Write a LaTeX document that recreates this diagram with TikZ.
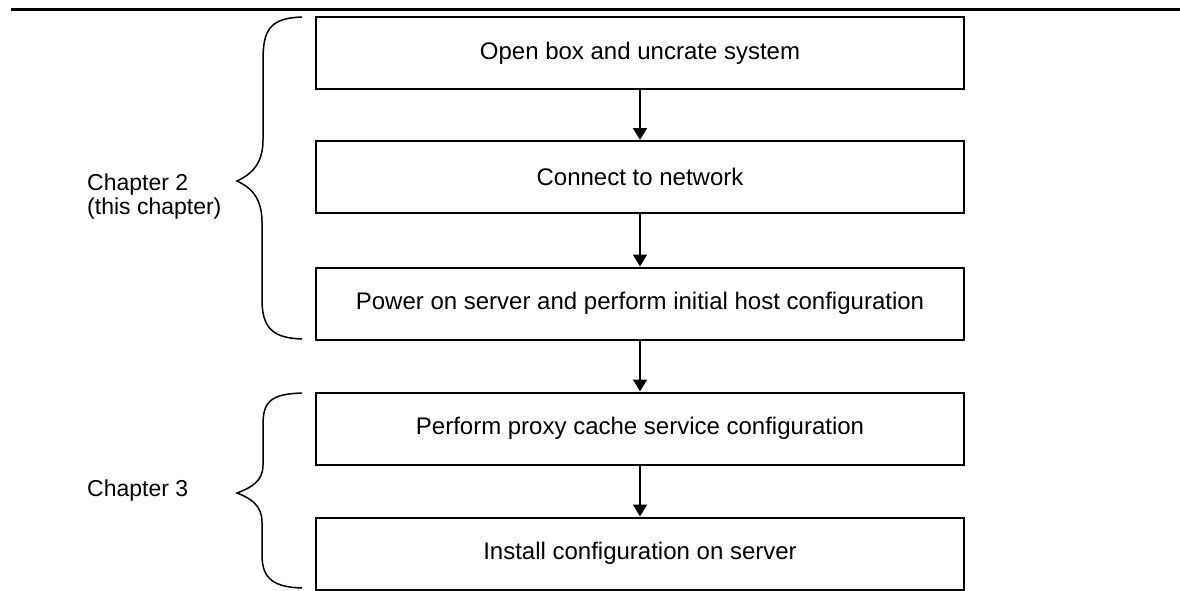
\documentclass[tikz,border=0pt]{standalone}
\usepackage{fontspec}
\setmainfont{Liberation Sans}
\usetikzlibrary{arrows.meta}
\begin{document}
\begin{tikzpicture}[x=1pt,y=-1pt,
  stepbox/.style={draw, line width=2pt, minimum width=648pt, minimum height=72pt, inner sep=0pt, font=\fontsize{24}{24}\selectfont},
  flow/.style={line width=1.6pt, -{Triangle[width=14pt,length=12pt]}},
  bracestyle/.style={line width=1.5pt},
  lbl/.style={font=\fontsize{23}{24}\selectfont, inner sep=0pt, align=left},
  rulestyle/.style={line width=3pt}]
\useasboundingbox (0,0) rectangle (1180,590);
\coordinate (rl) at (11,9.5);
\coordinate (rr) at (1180,9.5);
\draw[rulestyle] (rl) -- (rr);

\node[stepbox] (b1) at (640,53) {Open box and uncrate system};
\node[stepbox] (b2) at (640,177) {Connect to network};
\node[stepbox] (b3) at (640,303.5) {Power on server and perform initial host configuration};
\node[stepbox] (b4) at (640,428.5) {Perform proxy cache service configuration};
\node[stepbox] (b5) at (640,553.5) {Install configuration on server};

\draw[flow] (b1) -- (b2);
\draw[flow] (b2) -- (b3);
\draw[flow] (b3) -- (b4);
\draw[flow] (b4) -- (b5);

\draw[bracestyle] (302,17) .. controls (270,18) and (263,30) .. (263,60) -- (263,140)
  .. controls (263,165) and (250,175) .. (237,181)
  .. controls (250,187) and (262,197) .. (262,222) -- (262,300)
  .. controls (262,330) and (275,338) .. (302,339);
\draw[bracestyle] (302,393) .. controls (270,394) and (263,402) .. (263,425) -- (263,465)
  .. controls (263,482) and (250,488) .. (237,493)
  .. controls (250,498) and (262,505) .. (262,522) -- (262,555)
  .. controls (262,580) and (275,587) .. (302,588);

\node[lbl, anchor=north west] (c2) at (87,174) {Chapter 2\\(this chapter)};
\node[lbl, anchor=base west] (c3) at (87,496) {Chapter 3};
\end{tikzpicture}
\end{document}
